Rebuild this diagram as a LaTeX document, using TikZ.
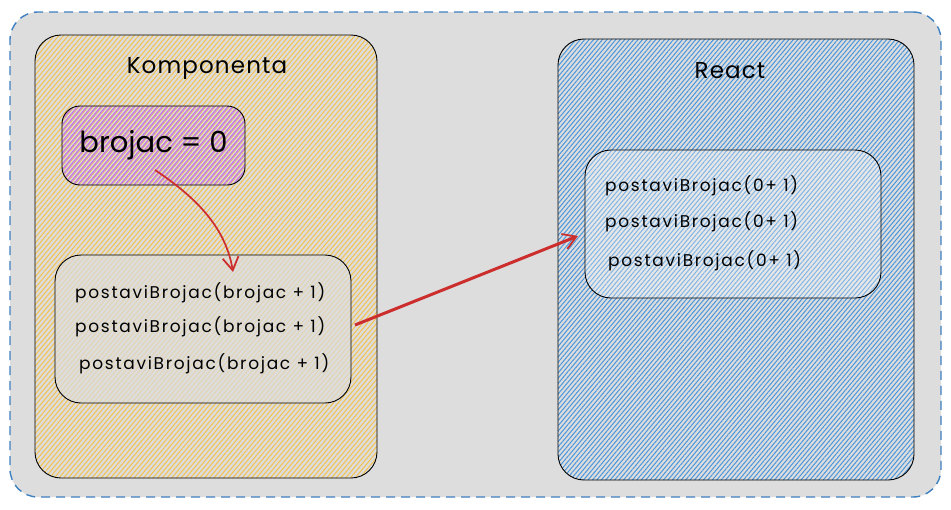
\documentclass[tikz,border=0pt]{standalone}
\usepackage{fontspec}
\setmainfont{Poppins}
\newfontfamily\codefont[LetterSpace=10]{Poppins}
\newfontfamily\titlefont[LetterSpace=5]{Poppins}
\usetikzlibrary{patterns.meta,arrows.meta}
\definecolor{bggray}{HTML}{DDDDDD}
\definecolor{dashblue}{HTML}{3F80C0}
\definecolor{orangeh}{HTML}{F2C14E}
\definecolor{pinkh}{HTML}{C47EE0}
\definecolor{blueh}{HTML}{4A96DC}
\definecolor{arrowred}{HTML}{CC2E2E}
\tikzset{
  box/.style={draw=black, line width=0.9pt, rounded corners=26pt, rectangle, inner sep=0pt},
  orangebox/.style={box, preaction={fill=bggray}, pattern={Lines[angle=50,distance=3.6pt,line width=1pt]}, pattern color=orangeh},
  pinkbox/.style={box, rounded corners=18pt, preaction={fill=bggray}, preaction={pattern={Lines[angle=50,distance=3.6pt,line width=0.7pt]}, pattern color=orangeh}, pattern={Lines[angle=50,distance=3.6pt,line width=1.5pt,yshift=1.8pt]}, pattern color=pinkh},
  bluebox/.style={box, preaction={fill=bggray}, pattern={Lines[angle=50,distance=3.4pt,line width=1pt]}, pattern color=blueh},
  grayinner/.style={box, fill=bggray, fill opacity=0.7, text opacity=1},
  blueinner/.style={box, fill=white, fill opacity=0.3, text opacity=1},
  title/.style={font=\titlefont\fontsize{23}{26}\selectfont},
  code/.style={font=\codefont\fontsize{17}{19}\selectfont, anchor=west, inner sep=0pt},
  redarrow/.style={draw=arrowred, line width=2.2pt, -{Straight Barb[length=13pt,width=16pt,line width=1.8pt]}},
}
\begin{document}
\begin{tikzpicture}[x=1pt,y=-1pt]
\useasboundingbox[fill=white] (0,0) rectangle (951,509);
\node[rectangle, rounded corners=28pt, fill=bggray, draw=dashblue, dash pattern=on 9pt off 6pt, line width=1.4pt, minimum width=931pt, minimum height=485pt] (outer) at (475.5,254.5) {};
\node[orangebox, minimum width=342pt, minimum height=443pt] (komp) at (206,256.5) {};
\node[title] (kompt) at (207,68) {Komponenta};
\node[pinkbox, minimum width=183pt, minimum height=79pt, font=\fontsize{29}{32}\selectfont] (brojac) at (153.5,145.5) {brojac = 0};
\node[grayinner, minimum width=296pt, minimum height=148pt] (calls) at (203,329) {};
\node[code] (c1) at (75,293) {postaviBrojac(brojac + 1)};
\node[code] (c2) at (75,327) {postaviBrojac(brojac + 1)};
\node[code] (c3) at (79,364) {postaviBrojac(brojac + 1)};
\node[bluebox, minimum width=356pt, minimum height=441pt] (react) at (736,259.5) {};
\node[title] (reactt) at (730,71) {React};
\node[blueinner, minimum width=296pt, minimum height=148pt] (queue) at (733,224) {};
\node[code] (q1) at (605,186) {postaviBrojac(0+ 1)};
\node[code] (q2) at (605,222) {postaviBrojac(0+ 1)};
\node[code] (q3) at (608,261) {postaviBrojac(0+ 1)};
\coordinate (a1s) at (155,170);
\coordinate (a1e) at (233,272);
\draw[redarrow, line width=1.7pt] (a1s) .. controls (200,200) and (226,230) .. (a1e);
\coordinate (a2s) at (355,325);
\coordinate (a2e) at (578,236);
\draw[redarrow, line width=3pt] (a2s) -- (a2e);
\end{tikzpicture}
\end{document}
